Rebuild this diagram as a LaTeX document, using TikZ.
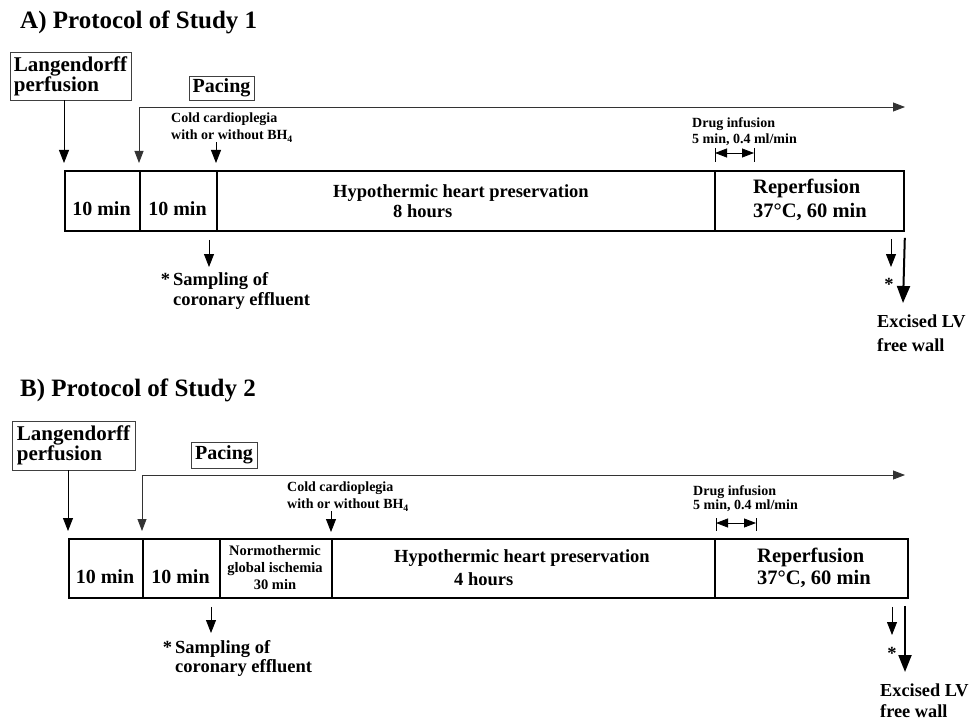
\documentclass[tikz,border=0pt]{standalone}
\usepackage{fontspec}
\setmainfont{Liberation Serif}
\usetikzlibrary{arrows.meta}

\tikzset{
  ttl/.style={font=\bfseries\fontsize{25}{28}\selectfont, anchor=base west, inner sep=0},
  hdr/.style={draw=black!75, line width=0.8pt, font=\bfseries\fontsize{21}{20}\selectfont, align=left, inner sep=0},
  cell/.style={draw, line width=1.8pt, anchor=north west, inner sep=0},
  big/.style={font=\bfseries\fontsize{20}{22}\selectfont, inner sep=0, anchor=base},
  rep/.style={font=\bfseries\fontsize{20.5}{24}\selectfont, inner sep=0, align=left, anchor=north west},
  mid/.style={font=\bfseries\fontsize{18.5}{20}\selectfont, inner sep=0, align=left, anchor=north west},
  sml/.style={font=\bfseries\fontsize{14}{16}\selectfont, inner sep=0, align=left, anchor=north west},
  arr/.style={-{Triangle[length=13pt,width=10pt]}, line width=0.8pt},
  bigarr/.style={-{Triangle[length=17pt,width=13pt]}, line width=2pt},
  duo/.style={{Triangle[length=12pt,width=9pt]}-{Triangle[length=12pt,width=9pt]}, line width=0.8pt},
}

\begin{document}
\begin{tikzpicture}[x=1pt, y=-1pt]
  \useasboundingbox (0,0) rectangle (973,722);

  % ---------- A) study 1 ----------
  \node[ttl] (ttlA) at (20,29) {A) Protocol of Study 1};
  \node[hdr, minimum width=121, minimum height=48] (langA) at (70.5,76) {Langendorff\\perfusion};
  \node[hdr, font=\bfseries\fontsize{20}{20}\selectfont, minimum width=65, minimum height=24] (paceA) at (221.5,88) {Pacing};
  % time line
  \node[cell, minimum width=75, minimum height=60] (a1) at (64,170) {};
  \node[cell, minimum width=77, minimum height=60] (a2) at (139,170) {};
  \node[cell, minimum width=498, minimum height=60] (a3) at (216,170) {};
  \node[cell, minimum width=189, minimum height=60] (a4) at (714,170) {};
  \node[big] (tA1) at (101.5,215) {10 min};
  \node[big] (tA2) at (177.5,215) {10 min};
  \node[mid] (hypA) at (333,184) {Hypothermic heart preservation\\\hspace*{60pt}8 hours};
  \node[rep] (repA) at (753,179) {Reperfusion\\37°C, 60 min};
  % arrows above
  \coordinate (endA) at (905,107);
  \draw[arr] (langA.south -| a1.north west) -- ([yshift=7pt]a1.north west);
  \draw[duo, draw=black!80] ([yshift=7pt]a2.north west) |- (endA);
  \node[sml, font=\bfseries\fontsize{14}{17}\selectfont] (ccA) at (171,113) {Cold cardioplegia\\with or without BH\textsubscript{4}};
  \draw[arr] (a3.north west |- ccA.south) -- ([yshift=7pt]a3.north west);
  \node[sml] (drA) at (692,117) {Drug infusion\\5 min, 0.4 ml/min};
  \coordinate (dA1) at (715,153);
  \coordinate (dA2) at (754,153);
  \draw[duo] (dA1) -- (dA2);
  \draw[line width=0.8pt] ([yshift=5pt]dA1) -- ([yshift=-9pt]dA1) ([yshift=5pt]dA2) -- ([yshift=-9pt]dA2);
  % arrows below
  \coordinate (sA) at (209,267);
  \draw[arr] ([yshift=-8pt]a3.south west -| sA) -- (sA);
  \node[mid] (sampA) at (173,272) {\llap{*\,}Sampling of\\coronary effluent};
  \coordinate (rA) at (891,267);
  \draw[arr] ([yshift=-7pt]a4.south -| rA) -- (rA);
  \node[mid, anchor=center] (stA) at (889,284) {*};
  \coordinate (eA) at (903,303);
  \draw[bigarr] ([yshift=-6pt]a4.south east) -- (eA);
  \node[mid, font=\bfseries\fontsize{18.3}{24}\selectfont] (exA) at (877,315) {Excised LV\\free wall};

  % ---------- B) study 2 ----------
  \node[ttl] (ttlB) at (20,396) {B) Protocol of Study 2};
  \node[hdr, minimum width=123, minimum height=49] (langB) at (73.5,445.5) {Langendorff\\perfusion};
  \node[hdr, font=\bfseries\fontsize{20}{20}\selectfont, minimum width=66, minimum height=26] (paceB) at (224,455) {Pacing};
  % time line
  \node[cell, minimum width=74, minimum height=59] (b1) at (68,538) {};
  \node[cell, minimum width=77, minimum height=59] (b2) at (142,538) {};
  \node[cell, minimum width=112, minimum height=59] (b3) at (219,538) {};
  \node[cell, minimum width=383, minimum height=59] (b4) at (331,538) {};
  \node[cell, minimum width=193, minimum height=59] (b5) at (714,538) {};
  \node[big] (tB1) at (105,583) {10 min};
  \node[big] (tB2) at (180.5,583) {10 min};
  \node[sml, font=\bfseries\fontsize{14.5}{17}\selectfont, align=center, anchor=north] (nmB) at (275,545) {Normothermic\\global ischemia\\30 min};
  \node[mid] (hypB) at (394,549) {Hypothermic heart preservation\\[3pt]\hspace*{60pt}4 hours};
  \node[rep, font=\bfseries\fontsize{20.5}{22}\selectfont] (repB) at (757,548) {Reperfusion\\37°C, 60 min};
  % arrows above
  \coordinate (endB) at (905,475);
  \draw[arr] (langB.south -| b1.north west) -- ([yshift=7pt]b1.north west);
  \draw[duo, draw=black!80] ([yshift=7pt]b2.north west) |- (endB);
  \node[sml, font=\bfseries\fontsize{14}{17}\selectfont] (ccB) at (287,482) {Cold cardioplegia\\with or without BH\textsubscript{4}};
  \draw[arr] (b4.north west |- ccB.south) -- ([yshift=6pt]b4.north west);
  \node[sml, font=\bfseries\fontsize{14}{14}\selectfont] (drB) at (693,485) {Drug infusion\\5 min, 0.4 ml/min};
  \coordinate (dB1) at (716,523);
  \coordinate (dB2) at (756,523);
  \draw[duo] (dB1) -- (dB2);
  \draw[line width=0.8pt] ([yshift=5pt]dB1) -- ([yshift=-8pt]dB1) ([yshift=5pt]dB2) -- ([yshift=-8pt]dB2);
  % arrows below
  \coordinate (sB) at (211,633);
  \draw[arr] ([yshift=-8pt]b2.south -| sB) -- (sB);
  \node[mid, font=\bfseries\fontsize{18.5}{19}\selectfont] (sampB) at (175,640) {\llap{*\,}Sampling of\\coronary effluent};
  \coordinate (rB) at (892,635);
  \draw[arr] ([yshift=-8pt]b5.south -| rB) -- (rB);
  \node[mid, anchor=center] (stB) at (892,653) {*};
  \coordinate (eB) at (905,672);
  \draw[bigarr] ([yshift=-7pt]b5.south -| eB) -- (eB);
  \node[mid, font=\bfseries\fontsize{18.3}{21}\selectfont] (exB) at (880,684) {Excised LV\\free wall};
\end{tikzpicture}
\end{document}
